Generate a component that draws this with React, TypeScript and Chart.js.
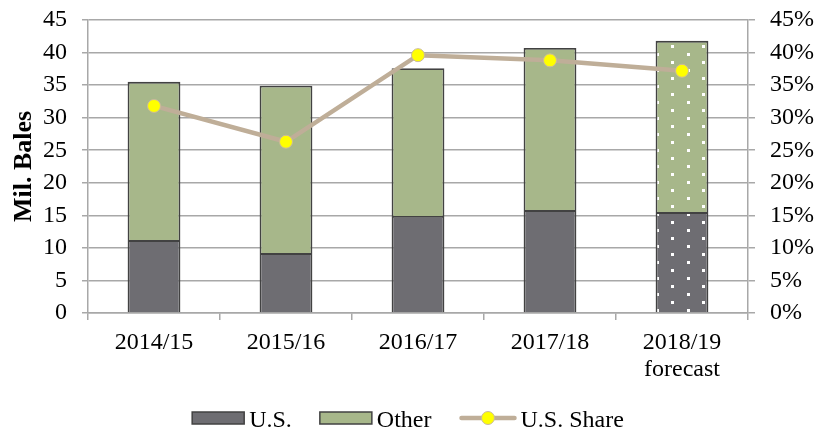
import React, { useEffect, useRef } from "react";
import { Chart, registerables } from "chart.js";

Chart.register(...registerables);

const categories: (string | string[])[] = ["2014/15", "2015/16", "2016/17", "2017/18", ["2018/19", "forecast"]];
const usValues = [11.2, 9.2, 14.9, 15.8, 15.5];
const otherValues = [24.3, 25.7, 22.7, 24.9, 26.3];
const usShare = [31.8, 26.3, 39.6, 38.8, 37.2];
const seriesNames = ["U.S.", "Other", "U.S. Share"];
const forecastIndex = 4;

const FONT = "'Liberation Serif', 'Times New Roman', serif";
const US_COLOR = "#6e6d72";
const OTHER_COLOR = "#a7b78a";
const BAR_BORDER = "#424242";
const LINE_COLOR = "#bfae98";
const POINT_COLOR = "#ffff00";
const POINT_BORDER = "#c9b99f";
const GRID = "#a8a8a8";

function makePattern(base: string): CanvasPattern | string {
  const c = document.createElement("canvas");
  c.width = 31;
  c.height = 16;
  const ctx = c.getContext("2d");
  if (!ctx) return base;
  ctx.fillStyle = base;
  ctx.fillRect(0, 0, 31, 16);
  ctx.fillStyle = "#ffffff";
  ctx.fillRect(5, 5, 3, 3);
  ctx.fillRect(20, 13, 3, 3);
  ctx.fillRect(20, 0, 3, 0.01);
  const p = ctx.createPattern(c, "repeat");
  return p || base;
}

const legendPlugin = {
  id: "customLegend",
  afterDraw(chart: any) {
    const ctx: CanvasRenderingContext2D = chart.ctx;
    ctx.save();
    ctx.font = `24px ${FONT}`;
    const boxW = 52;
    const lineW = 57;
    const gapText = 5;
    const gapItem = 28;
    const widths = seriesNames.map((n) => ctx.measureText(n).width);
    const total = boxW + gapText + widths[0] + gapItem + boxW + gapText + widths[1] + gapItem + lineW + gapText - 1 + widths[2];
    let x = 408 - total / 2;
    const cy = 418;
    const baseline = 427;
    for (let i = 0; i < 2; i++) {
      ctx.fillStyle = i === 0 ? US_COLOR : OTHER_COLOR;
      ctx.fillRect(x, cy - 6, boxW, 12);
      ctx.strokeStyle = BAR_BORDER;
      ctx.lineWidth = 1.5;
      ctx.strokeRect(x, cy - 6, boxW, 12);
      x += boxW + gapText;
      ctx.fillStyle = "#000";
      ctx.textBaseline = "alphabetic";
      ctx.textAlign = "left";
      ctx.fillText(seriesNames[i], x, baseline);
      x += widths[i] + gapItem;
    }
    ctx.strokeStyle = LINE_COLOR;
    ctx.lineWidth = 4.5;
    ctx.lineCap = "round";
    ctx.beginPath();
    ctx.moveTo(x + 2, cy);
    ctx.lineTo(x + lineW - 2, cy);
    ctx.stroke();
    ctx.beginPath();
    ctx.arc(x + lineW / 2, cy, 6.5, 0, Math.PI * 2);
    ctx.fillStyle = POINT_COLOR;
    ctx.fill();
    ctx.strokeStyle = POINT_BORDER;
    ctx.lineWidth = 1;
    ctx.stroke();
    x += lineW + gapText - 1;
    ctx.fillStyle = "#000";
    ctx.fillText(seriesNames[2], x, baseline);
    ctx.restore();
  },
};

function zeroPad(s: any) {
  s.paddingTop = 0;
  s.paddingBottom = 0;
}

export default function App() {
  const ref = useRef<HTMLCanvasElement | null>(null);

  useEffect(() => {
    document.body.style.margin = "0";
    const canvas = ref.current;
    if (!canvas) return;

    const usBg = usValues.map((_, i) => (i === forecastIndex ? makePattern(US_COLOR) : US_COLOR));
    const otherBg = otherValues.map((_, i) => (i === forecastIndex ? makePattern(OTHER_COLOR) : OTHER_COLOR));

    const chart = new Chart(canvas, {
      type: "bar",
      data: {
        labels: categories,
        datasets: [
          {
            type: "bar",
            label: seriesNames[0],
            data: usValues,
            backgroundColor: usBg as any,
            borderColor: BAR_BORDER,
            borderWidth: 1.8,
            yAxisID: "y",
            stack: "s",
            order: 1,
            barPercentage: 0.4,
            categoryPercentage: 1,
          },
          {
            type: "bar",
            label: seriesNames[1],
            data: otherValues,
            backgroundColor: otherBg as any,
            borderColor: BAR_BORDER,
            borderWidth: 1.8,
            yAxisID: "y",
            stack: "s",
            order: 1,
            barPercentage: 0.4,
            categoryPercentage: 1,
          },
          {
            type: "line",
            label: seriesNames[2],
            data: usShare,
            borderColor: LINE_COLOR,
            borderWidth: 4.5,
            pointRadius: 6.5,
            pointBackgroundColor: POINT_COLOR,
            pointBorderColor: POINT_BORDER,
            pointBorderWidth: 1,
            yAxisID: "y2",
            order: 0,
            tension: 0,
          } as any,
        ],
      },
      options: {
        animation: false,
        responsive: false,
        layout: { padding: { top: 20, bottom: 28, left: 0, right: 0 } },
        plugins: {
          tooltip: { enabled: false },
          legend: { display: false },
        },
        scales: {
          x: {
            stacked: true,
            grid: { drawOnChartArea: false, drawTicks: true, tickLength: 7, color: GRID, lineWidth: 1.5 },
            border: { display: true, color: GRID, width: 1.5 },
            ticks: { color: "#000", padding: 9, autoSkip: false, maxRotation: 0, font: { family: FONT, size: 24, lineHeight: 1.12 } },
            afterFit: (s: any) => {
              s.height = 91;
              s.paddingLeft = 0;
              s.paddingRight = 0;
            },
          },
          y: {
            stacked: true,
            position: "left",
            min: 0,
            max: 45,
            ticks: { stepSize: 5, autoSkip: false, color: "#000", padding: 15, font: { family: FONT, size: 24 } },
            grid: { color: GRID, lineWidth: 1.5, tickLength: 6 },
            border: { display: true, color: GRID, width: 1.5 },
            title: {
              display: true,
              text: "Mil. Bales",
              color: "#000",
              padding: { top: 9, bottom: 0 },
              font: { family: FONT, size: 26, weight: "bold" },
            },
            afterFit: (s: any) => {
              s.width = 88;
              zeroPad(s);
            },
          },
          y2: {
            position: "right",
            min: 0,
            max: 45,
            ticks: {
              stepSize: 5,
              autoSkip: false,
              color: "#000",
              padding: 15,
              font: { family: FONT, size: 24 },
              callback: (v: any) => v + "%",
            },
            grid: { drawOnChartArea: false, color: GRID, lineWidth: 1.5, tickLength: 7 },
            border: { display: true, color: GRID, width: 1.5 },
            afterFit: (s: any) => {
              s.width = 77;
              zeroPad(s);
            },
          },
        },
      },
      plugins: [legendPlugin],
    });

    return () => chart.destroy();
  }, []);

  return (
    <div style={{ width: 825, height: 432 }}>
      <canvas ref={ref} width={825} height={432} style={{ display: "block" }} />
    </div>
  );
}
